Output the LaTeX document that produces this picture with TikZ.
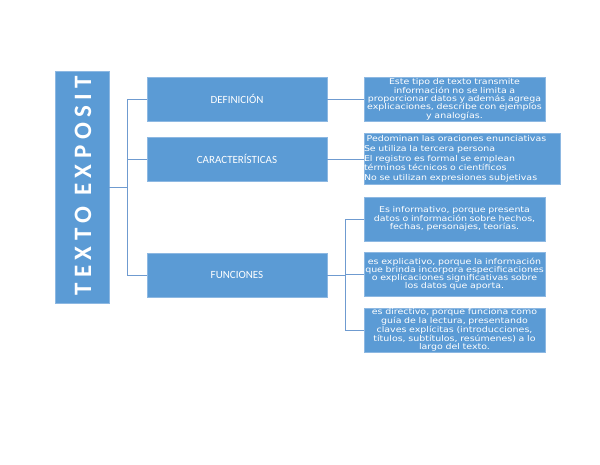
\documentclass[tikz,border=0pt]{standalone}
\usepackage{fontspec}
\setmainfont{Carlito}
\newfontfamily\boxfont[FakeStretch=1.18]{DejaVu Sans}
\newfontfamily\titlefont[LetterSpace=22]{Carlito}
\definecolor{boxblue}{HTML}{5B9BD5}
\definecolor{edgeblue}{HTML}{8DB8E2}
\definecolor{linkblue}{HTML}{6F9BD0}
\begin{document}
\begin{tikzpicture}[x=1pt, y=-1pt,
  head/.style={rectangle, fill=boxblue, draw=edgeblue, line width=0.6pt, text=white, inner sep=0pt},
  topic/.style={head, minimum width=180, minimum height=44, font=\fontsize{11}{12}\selectfont},
  info/.style={head, minimum width=181, minimum height=44, text width=181, align=center, font=\boxfont\fontsize{8}{8}\selectfont},
  link/.style={draw=linkblue, line width=1pt}]
\useasboundingbox (0,0) rectangle (600,464);
\node[head, minimum width=54, minimum height=232] (title) at (82,187){};
\begin{scope}
\clip (55,71) rectangle (109,303);
\node[rotate=90, anchor=west, inner sep=0pt, text=white, font=\titlefont\bfseries\fontsize{25}{25}\selectfont] (titletext) at (83,296){TEXTO EXPOSIT};
\end{scope}
\node[topic] (def) at (237,99){DEFINICIÓN};
\node[topic] (car) at (237,159){CARACTERÍSTICAS};
\node[topic] (fun) at (237,275){FUNCIONES};
\node[info] (deftext) at (454.5,99){Este tipo de texto transmite\\información no se limita a\\proporcionar datos y además agrega\\explicaciones, describe con ejemplos\\y analogías.};
\node[info, minimum width=196, minimum height=51, text width=196, align=left] (cartext) at (462,158.5){\ Pedominan las oraciones enunciativas\\[2pt]Se utiliza la tercera persona\\[2pt]El registro es formal se emplean\\términos técnicos o científicos\\[2pt]No se utilizan expresiones subjetivas};
\node[info] (fun1) at (454.5,219){Es informativo, porque presenta\\datos o información sobre hechos,\\fechas, personajes, teorías.};
\node[info] (fun2) at (454.5,274.5){es explicativo, porque la información\\que brinda incorpora especificaciones\\o explicaciones significativas sobre\\los datos que aporta.};
\node[info] (fun3) at (454.5,330){es directivo, porque funciona como\\guía de la lectura, presentando\\claves explícitas (introducciones,\\títulos, subtítulos, resúmenes) a lo\\largo del texto.};
\coordinate (jt) at (127,187);
\coordinate (jf) at (345,275);
\draw[link](title.east) -- (jt);
\draw[link](jt) |- (def.west);
\draw[link](jt) |- (car.west);
\draw[link](jt) |- (fun.west);
\draw[link](def.east) -- (deftext.west);
\draw[link](car.east) -- (cartext.west |- car.east);
\draw[link](fun.east) -- (jf);
\draw[link](jf) |- (fun1.west);
\draw[link](jf) |- (fun2.west);
\draw[link](jf) |- (fun3.west);
\end{tikzpicture}
\end{document}
